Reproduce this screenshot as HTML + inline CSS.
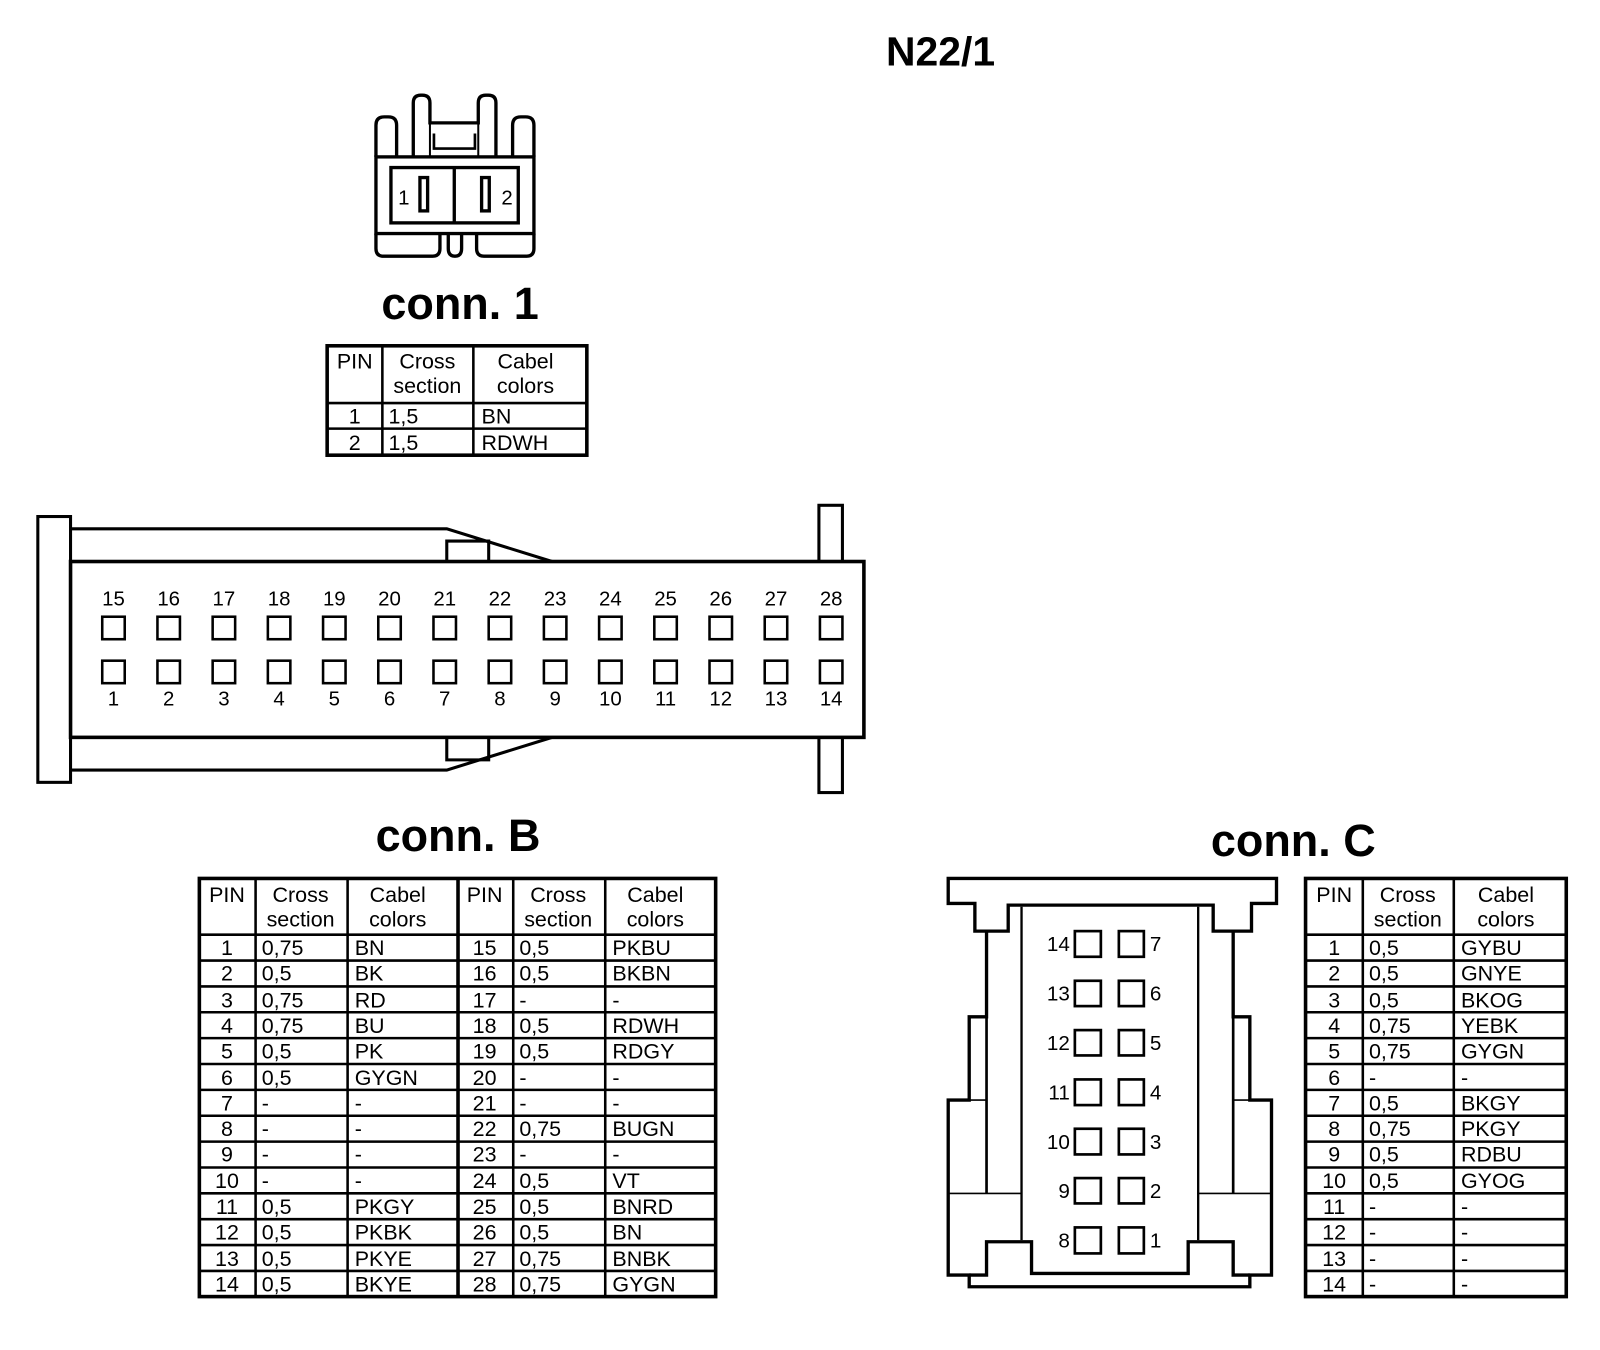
<!DOCTYPE html>
<html><head><meta charset="utf-8"><style>
html,body{margin:0;padding:0;background:#fff;}
svg{display:block}
text{font-family:"Liberation Sans",Arial,sans-serif;fill:#000;}
.t{font-size:21px}
.c{text-anchor:middle}
.p{font-size:20px}
</style></head><body>
<svg width="1600" height="1350" viewBox="0 0 1565 1320" xmlns="http://www.w3.org/2000/svg">
<rect width="1565" height="1320" fill="#fff"/>
<text x="920" y="64" class="c" style="font-size:40px;font-weight:bold">N22/1</text>

<!-- conn 1 drawing -->
<g transform="scale(0.978) translate(360,80) scale(0.33333)" fill="none" stroke="#000" stroke-width="10">
<path d="M48,230 V135 Q48,110 73,110 H85 Q110,110 110,135 V230"/>
<path d="M458,230 V135 Q458,110 483,110 H497 Q522,110 522,135 V230"/>
<path d="M160,230 V68 Q160,45 183,45 H187 Q210,45 210,68 V128 H355 V68 Q355,45 378,45 H385 Q408,45 408,68 V230"/>
<path d="M210,128 V230 M355,128 V230" stroke-width="6"/>
<path d="M222,160 V205 H345 V160" stroke-width="8"/>
<rect x="48" y="230" width="474" height="230"/>
<rect x="93" y="262" width="382" height="166"/>
<line x1="283" y1="262" x2="283" y2="428"/>
<rect x="180" y="292" width="23" height="100"/>
<rect x="365" y="292" width="23" height="100"/>
<path d="M48,460 V505 Q48,528 70,528 H218 Q240,528 240,505 V460"/>
<path d="M265,460 V505 Q265,528 285,528 Q305,528 305,505 V460"/>
<path d="M350,460 V505 Q350,528 372,528 H500 Q522,528 522,505 V460"/>
</g>
<text x="395" y="200" class="c p">1</text>
<text x="496" y="200" class="c p">2</text>

<text x="450" y="312" class="c" style="font-size:44px;font-weight:bold">conn. 1</text>

<!-- table 1 -->
<g fill="none" stroke="#000">
<rect x="320" y="338" width="254" height="107" stroke-width="3.5"/>
<path d="M374,338 V445 M463,338 V445 M320,394 H574 M320,419 H574" stroke-width="2.5"/>
</g>
<text x="347" y="360" class="t c">PIN</text>
<text x="418" y="360" class="t c">Cross</text><text x="418" y="384" class="t c">section</text>
<text x="514" y="360" class="t c">Cabel</text><text x="514" y="384" class="t c">colors</text>
<text x="347" y="414" class="t c">1</text><text x="380" y="414" class="t">1,5</text><text x="471" y="414" class="t">BN</text>
<text x="347" y="440" class="t c">2</text><text x="380" y="440" class="t">1,5</text><text x="471" y="440" class="t">RDWH</text>

<!-- conn B drawing -->
<g fill="none" stroke="#000" stroke-width="3">
<rect x="37" y="505" width="32" height="260"/>
<path d="M69,517 H437 L540,549"/>
<path d="M69,753 H437 L540,721"/>
<path d="M437,549 V529 H478 V549 M437,721 V743 H478 V721"/>
<rect x="801" y="494" width="23" height="281"/>
<rect x="69" y="549" width="776" height="172" fill="#fff" stroke-width="3.5"/>
<g stroke-width="2.5">
<rect x="100" y="603" width="22" height="22"/><rect x="154" y="603" width="22" height="22"/><rect x="208" y="603" width="22" height="22"/><rect x="262" y="603" width="22" height="22"/><rect x="316" y="603" width="22" height="22"/><rect x="370" y="603" width="22" height="22"/><rect x="424" y="603" width="22" height="22"/><rect x="478" y="603" width="22" height="22"/><rect x="532" y="603" width="22" height="22"/><rect x="586" y="603" width="22" height="22"/><rect x="640" y="603" width="22" height="22"/><rect x="694" y="603" width="22" height="22"/><rect x="748" y="603" width="22" height="22"/><rect x="802" y="603" width="22" height="22"/>
<rect x="100" y="646" width="22" height="22"/><rect x="154" y="646" width="22" height="22"/><rect x="208" y="646" width="22" height="22"/><rect x="262" y="646" width="22" height="22"/><rect x="316" y="646" width="22" height="22"/><rect x="370" y="646" width="22" height="22"/><rect x="424" y="646" width="22" height="22"/><rect x="478" y="646" width="22" height="22"/><rect x="532" y="646" width="22" height="22"/><rect x="586" y="646" width="22" height="22"/><rect x="640" y="646" width="22" height="22"/><rect x="694" y="646" width="22" height="22"/><rect x="748" y="646" width="22" height="22"/><rect x="802" y="646" width="22" height="22"/>
</g>
</g>
<g class="p">
<text x="111" y="592" class="c p">15</text><text x="165" y="592" class="c p">16</text><text x="219" y="592" class="c p">17</text><text x="273" y="592" class="c p">18</text><text x="327" y="592" class="c p">19</text><text x="381" y="592" class="c p">20</text><text x="435" y="592" class="c p">21</text><text x="489" y="592" class="c p">22</text><text x="543" y="592" class="c p">23</text><text x="597" y="592" class="c p">24</text><text x="651" y="592" class="c p">25</text><text x="705" y="592" class="c p">26</text><text x="759" y="592" class="c p">27</text><text x="813" y="592" class="c p">28</text>
<text x="111" y="690" class="c p">1</text><text x="165" y="690" class="c p">2</text><text x="219" y="690" class="c p">3</text><text x="273" y="690" class="c p">4</text><text x="327" y="690" class="c p">5</text><text x="381" y="690" class="c p">6</text><text x="435" y="690" class="c p">7</text><text x="489" y="690" class="c p">8</text><text x="543" y="690" class="c p">9</text><text x="597" y="690" class="c p">10</text><text x="651" y="690" class="c p">11</text><text x="705" y="690" class="c p">12</text><text x="759" y="690" class="c p">13</text><text x="813" y="690" class="c p">14</text>
</g>

<text x="448" y="832" class="c" style="font-size:44px;font-weight:bold">conn. B</text>
<text x="1265" y="837" class="c" style="font-size:44px;font-weight:bold">conn. C</text>

<!-- table B -->
<g fill="none" stroke="#000">
<rect x="195" y="859" width="505" height="409" stroke-width="3.5"/>
<path d="M448,859 V1268" stroke-width="3.5"/>
<path d="M250,859 V1268 M340,859 V1268 M502,859 V1268 M592,859 V1268" stroke-width="2.5"/>
<path d="M195,914 H700 M195,939.3 H700 M195,964.6 H700 M195,989.9 H700 M195,1015.2 H700 M195,1040.5 H700 M195,1065.8 H700 M195,1091.1 H700 M195,1116.4 H700 M195,1141.7 H700 M195,1167 H700 M195,1192.3 H700 M195,1217.6 H700 M195,1242.9 H700" stroke-width="2.5"/>
</g>
<g class="t">
<text x="222" y="882" class="t c">PIN</text><text x="294" y="882" class="t c">Cross</text><text x="294" y="906" class="t c">section</text><text x="389" y="882" class="t c">Cabel</text><text x="389" y="906" class="t c">colors</text>
<text x="474" y="882" class="t c">PIN</text><text x="546" y="882" class="t c">Cross</text><text x="546" y="906" class="t c">section</text><text x="641" y="882" class="t c">Cabel</text><text x="641" y="906" class="t c">colors</text>

<text x="222" y="934" class="t c">1</text><text x="256" y="934" class="t">0,75</text><text x="347" y="934" class="t">BN</text><text x="474" y="934" class="t c">15</text><text x="508" y="934" class="t">0,5</text><text x="599" y="934" class="t">PKBU</text>
<text x="222" y="959" class="t c">2</text><text x="256" y="959" class="t">0,5</text><text x="347" y="959" class="t">BK</text><text x="474" y="959" class="t c">16</text><text x="508" y="959" class="t">0,5</text><text x="599" y="959" class="t">BKBN</text>
<text x="222" y="985" class="t c">3</text><text x="256" y="985" class="t">0,75</text><text x="347" y="985" class="t">RD</text><text x="474" y="985" class="t c">17</text><text x="508" y="985" class="t">-</text><text x="599" y="985" class="t">-</text>
<text x="222" y="1010" class="t c">4</text><text x="256" y="1010" class="t">0,75</text><text x="347" y="1010" class="t">BU</text><text x="474" y="1010" class="t c">18</text><text x="508" y="1010" class="t">0,5</text><text x="599" y="1010" class="t">RDWH</text>
<text x="222" y="1035" class="t c">5</text><text x="256" y="1035" class="t">0,5</text><text x="347" y="1035" class="t">PK</text><text x="474" y="1035" class="t c">19</text><text x="508" y="1035" class="t">0,5</text><text x="599" y="1035" class="t">RDGY</text>
<text x="222" y="1061" class="t c">6</text><text x="256" y="1061" class="t">0,5</text><text x="347" y="1061" class="t">GYGN</text><text x="474" y="1061" class="t c">20</text><text x="508" y="1061" class="t">-</text><text x="599" y="1061" class="t">-</text>
<text x="222" y="1086" class="t c">7</text><text x="256" y="1086" class="t">-</text><text x="347" y="1086" class="t">-</text><text x="474" y="1086" class="t c">21</text><text x="508" y="1086" class="t">-</text><text x="599" y="1086" class="t">-</text>
<text x="222" y="1111" class="t c">8</text><text x="256" y="1111" class="t">-</text><text x="347" y="1111" class="t">-</text><text x="474" y="1111" class="t c">22</text><text x="508" y="1111" class="t">0,75</text><text x="599" y="1111" class="t">BUGN</text>
<text x="222" y="1136" class="t c">9</text><text x="256" y="1136" class="t">-</text><text x="347" y="1136" class="t">-</text><text x="474" y="1136" class="t c">23</text><text x="508" y="1136" class="t">-</text><text x="599" y="1136" class="t">-</text>
<text x="222" y="1162" class="t c">10</text><text x="256" y="1162" class="t">-</text><text x="347" y="1162" class="t">-</text><text x="474" y="1162" class="t c">24</text><text x="508" y="1162" class="t">0,5</text><text x="599" y="1162" class="t">VT</text>
<text x="222" y="1187" class="t c">11</text><text x="256" y="1187" class="t">0,5</text><text x="347" y="1187" class="t">PKGY</text><text x="474" y="1187" class="t c">25</text><text x="508" y="1187" class="t">0,5</text><text x="599" y="1187" class="t">BNRD</text>
<text x="222" y="1212" class="t c">12</text><text x="256" y="1212" class="t">0,5</text><text x="347" y="1212" class="t">PKBK</text><text x="474" y="1212" class="t c">26</text><text x="508" y="1212" class="t">0,5</text><text x="599" y="1212" class="t">BN</text>
<text x="222" y="1238" class="t c">13</text><text x="256" y="1238" class="t">0,5</text><text x="347" y="1238" class="t">PKYE</text><text x="474" y="1238" class="t c">27</text><text x="508" y="1238" class="t">0,75</text><text x="599" y="1238" class="t">BNBK</text>
<text x="222" y="1263" class="t c">14</text><text x="256" y="1263" class="t">0,5</text><text x="347" y="1263" class="t">BKYE</text><text x="474" y="1263" class="t c">28</text><text x="508" y="1263" class="t">0,75</text><text x="599" y="1263" class="t">GYGN</text>
</g>

<!-- conn C drawing -->
<g transform="scale(0.978) translate(940,870) scale(0.33333)" fill="none" stroke="#000" stroke-width="10">
<path d="M25,25 H1010 V100 H935 V183 H820 V105 H205 V183 H105 V100 H25 Z"/>
<path d="M245,110 V1110 M775,110 V1110" stroke-width="7"/>
<path d="M140,183 V440 H88 V690 H25 V1215 H88 V1250 H930 V1215 H995 V690 H930 V440 H880 V183"/>
<path d="M140,440 V970 M880,440 V970" stroke-width="8"/>
<path d="M88,690 H140 M880,690 H930 M25,970 H245 M775,970 H995" stroke-width="5"/>
<path d="M88,1215 H140 V1115 H275 V1210 H745 V1115 H880 V1215 H930"/>
<g stroke-width="8">
<rect x="405" y="183" width="78" height="77"/><rect x="537" y="183" width="75" height="77"/>
<rect x="405" y="332" width="78" height="76"/><rect x="537" y="332" width="75" height="76"/>
<rect x="405" y="480" width="78" height="76"/><rect x="537" y="480" width="75" height="76"/>
<rect x="405" y="628" width="78" height="77"/><rect x="537" y="628" width="75" height="77"/>
<rect x="405" y="776" width="78" height="77"/><rect x="537" y="776" width="75" height="77"/>
<rect x="405" y="924" width="78" height="76"/><rect x="537" y="924" width="75" height="76"/>
<rect x="405" y="1072" width="78" height="78"/><rect x="537" y="1072" width="75" height="78"/>
</g>
<g stroke="none" fill="#000" style="font-size:62px">
<text x="390" y="243" text-anchor="end">14</text><text x="630" y="243">7</text>
<text x="390" y="391" text-anchor="end">13</text><text x="630" y="391">6</text>
<text x="390" y="539" text-anchor="end">12</text><text x="630" y="539">5</text>
<text x="390" y="688" text-anchor="end">11</text><text x="630" y="688">4</text>
<text x="390" y="836" text-anchor="end">10</text><text x="630" y="836">3</text>
<text x="390" y="984" text-anchor="end">9</text><text x="630" y="984">2</text>
<text x="390" y="1133" text-anchor="end">8</text><text x="630" y="1133">1</text>
</g>
</g>

<!-- table C -->
<g fill="none" stroke="#000">
<rect x="1277" y="859" width="255" height="409" stroke-width="3.5"/>
<path d="M1333,859 V1268 M1422,859 V1268" stroke-width="2.5"/>
<path d="M1277,914 H1532 M1277,939.3 H1532 M1277,964.6 H1532 M1277,989.9 H1532 M1277,1015.2 H1532 M1277,1040.5 H1532 M1277,1065.8 H1532 M1277,1091.1 H1532 M1277,1116.4 H1532 M1277,1141.7 H1532 M1277,1167 H1532 M1277,1192.3 H1532 M1277,1217.6 H1532 M1277,1242.9 H1532" stroke-width="2.5"/>
</g>
<g>
<text x="1305" y="882" class="t c">PIN</text><text x="1377" y="882" class="t c">Cross</text><text x="1377" y="906" class="t c">section</text><text x="1473" y="882" class="t c">Cabel</text><text x="1473" y="906" class="t c">colors</text>
<text x="1305" y="934" class="t c">1</text><text x="1339" y="934" class="t">0,5</text><text x="1429" y="934" class="t">GYBU</text>
<text x="1305" y="959" class="t c">2</text><text x="1339" y="959" class="t">0,5</text><text x="1429" y="959" class="t">GNYE</text>
<text x="1305" y="985" class="t c">3</text><text x="1339" y="985" class="t">0,5</text><text x="1429" y="985" class="t">BKOG</text>
<text x="1305" y="1010" class="t c">4</text><text x="1339" y="1010" class="t">0,75</text><text x="1429" y="1010" class="t">YEBK</text>
<text x="1305" y="1035" class="t c">5</text><text x="1339" y="1035" class="t">0,75</text><text x="1429" y="1035" class="t">GYGN</text>
<text x="1305" y="1061" class="t c">6</text><text x="1339" y="1061" class="t">-</text><text x="1429" y="1061" class="t">-</text>
<text x="1305" y="1086" class="t c">7</text><text x="1339" y="1086" class="t">0,5</text><text x="1429" y="1086" class="t">BKGY</text>
<text x="1305" y="1111" class="t c">8</text><text x="1339" y="1111" class="t">0,75</text><text x="1429" y="1111" class="t">PKGY</text>
<text x="1305" y="1136" class="t c">9</text><text x="1339" y="1136" class="t">0,5</text><text x="1429" y="1136" class="t">RDBU</text>
<text x="1305" y="1162" class="t c">10</text><text x="1339" y="1162" class="t">0,5</text><text x="1429" y="1162" class="t">GYOG</text>
<text x="1305" y="1187" class="t c">11</text><text x="1339" y="1187" class="t">-</text><text x="1429" y="1187" class="t">-</text>
<text x="1305" y="1212" class="t c">12</text><text x="1339" y="1212" class="t">-</text><text x="1429" y="1212" class="t">-</text>
<text x="1305" y="1238" class="t c">13</text><text x="1339" y="1238" class="t">-</text><text x="1429" y="1238" class="t">-</text>
<text x="1305" y="1263" class="t c">14</text><text x="1339" y="1263" class="t">-</text><text x="1429" y="1263" class="t">-</text>
</g>
</svg>
</body></html>
